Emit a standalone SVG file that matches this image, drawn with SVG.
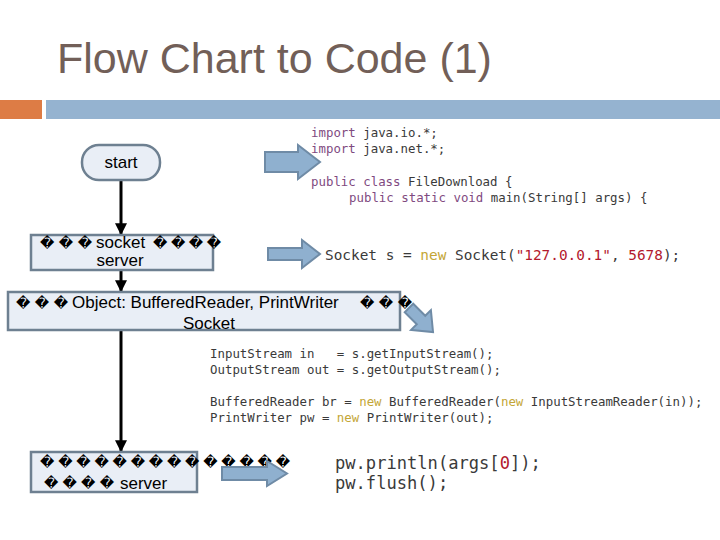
<svg xmlns="http://www.w3.org/2000/svg" width="720" height="540" viewBox="0 0 720 540">
<defs>
<style>
.title{font-family:"Liberation Sans",Arial,sans-serif;font-size:43px;fill:#725f58}
.lbl{font-family:"Liberation Sans","DejaVu Sans",sans-serif;font-size:17px;fill:#000}
.tf{font-family:"DejaVu Sans",sans-serif;font-size:14px;fill:#000}
.node{fill:#e9eef6;stroke:#6e8091;stroke-width:2.5}
.barrow{fill:#8fb0cf;stroke:#6f8ba6;stroke-width:2}
.code{font-family:"DejaVu Sans Mono","Liberation Mono",monospace;fill:#3a3a3a;white-space:pre}
.kw{fill:#7f4a7f}
.nw{fill:#c4a636}
.str{fill:#b3192d}
.conn{stroke:#000;stroke-width:3;fill:none}
</style>
<marker id="ah" viewBox="0 0 10 10" refX="9" refY="5" markerWidth="4" markerHeight="4" orient="auto" markerUnits="strokeWidth">
<path d="M0,0 L10,5 L0,10 z" fill="#000"/>
</marker>
</defs>
<rect width="720" height="540" fill="#fff"/>
<text class="title" x="57" y="73">Flow Chart to Code (1)</text>
<rect x="0" y="100" width="42" height="19" fill="#dd7c45"/>
<rect x="46" y="100" width="674" height="19" fill="#95b3d0"/>

<g id="connectors">
<line class="conn" x1="121" y1="180" x2="121" y2="234" marker-end="url(#ah)"/>
<line class="conn" x1="121" y1="270" x2="121" y2="291" marker-end="url(#ah)"/>
<line class="conn" x1="121" y1="330" x2="121" y2="451" marker-end="url(#ah)"/>
</g>

<g id="start">
<rect class="node" x="82" y="145" width="78" height="35" rx="17"/>
<text class="lbl" x="121" y="168" text-anchor="middle">start</text>
</g>

<g id="socket">
<rect class="node" x="31" y="235" width="182" height="35"/>
<text class="tf" x="40" y="248" textLength="52">���</text>
<text class="lbl" x="96" y="248">socket</text>
<text class="tf" x="153" y="248" textLength="68">����</text>
<text class="lbl" x="120" y="266" text-anchor="middle">server</text>
</g>

<g id="object">
<rect class="node" x="8" y="292" width="392" height="38"/>
<text class="tf" x="16" y="308" textLength="52">���</text>
<text class="lbl" x="72" y="308">Object: BufferedReader, PrintWriter</text>
<text class="tf" x="360" y="308" textLength="52">���</text>
<text class="lbl" x="209" y="329" text-anchor="middle">Socket</text>
</g>

<g id="send">
<rect class="node" x="31" y="452" width="166" height="40"/>
<text class="tf" x="40" y="467" textLength="250">��������������</text>
<text class="tf" x="44" y="488" textLength="70">����</text>
<text class="lbl" x="120" y="489">server</text>
</g>

<g id="arrows">
<path class="barrow" d="M265,152 H298 V145 L320,162 L298,179 V172 H265 Z"/>
<path class="barrow" d="M268,248 H302 V240 L320,254 L302,268 V260 H268 Z"/>
<path class="barrow" transform="translate(421,320) rotate(45)" d="M-17,-6 H0 V-14 L17,0 L0,14 V6 H-17 Z"/>
<path class="barrow" d="M222,467 H267 V461 L287,473.5 L267,486 V480 H222 Z"/>
</g>

<g id="code1" class="code" font-size="12.4">
<text x="311" y="137"><tspan class="kw">import</tspan> java.io.*;</text>
<text x="311" y="153"><tspan class="kw">import</tspan> java.net.*;</text>
<text x="311" y="186"><tspan class="kw">public class</tspan> FileDownload {</text>
<text x="349" y="202"><tspan class="kw">public static void</tspan> main(String[] args) {</text>
</g>
<g id="code2" class="code" font-size="14.4">
<text x="325" y="260">Socket s = <tspan class="nw">new</tspan> Socket(<tspan class="str">"127.0.0.1"</tspan>, <tspan class="str">5678</tspan>);</text>
</g>
<g id="code3" class="code" font-size="12.4">
<text x="210" y="358" xml:space="preserve">InputStream in   = s.getInputStream();</text>
<text x="210" y="374">OutputStream out = s.getOutputStream();</text>
<text x="210" y="406">BufferedReader br = <tspan class="nw">new</tspan> BufferedReader(<tspan class="nw">new</tspan> InputStreamReader(in));</text>
<text x="210" y="422">PrintWriter pw = <tspan class="nw">new</tspan> PrintWriter(out);</text>
</g>
<g id="code4" class="code" font-size="17.1">
<text x="335" y="469">pw.println(args[<tspan class="str">0</tspan>]);</text>
<text x="335" y="489">pw.flush();</text>
</g>
</svg>
